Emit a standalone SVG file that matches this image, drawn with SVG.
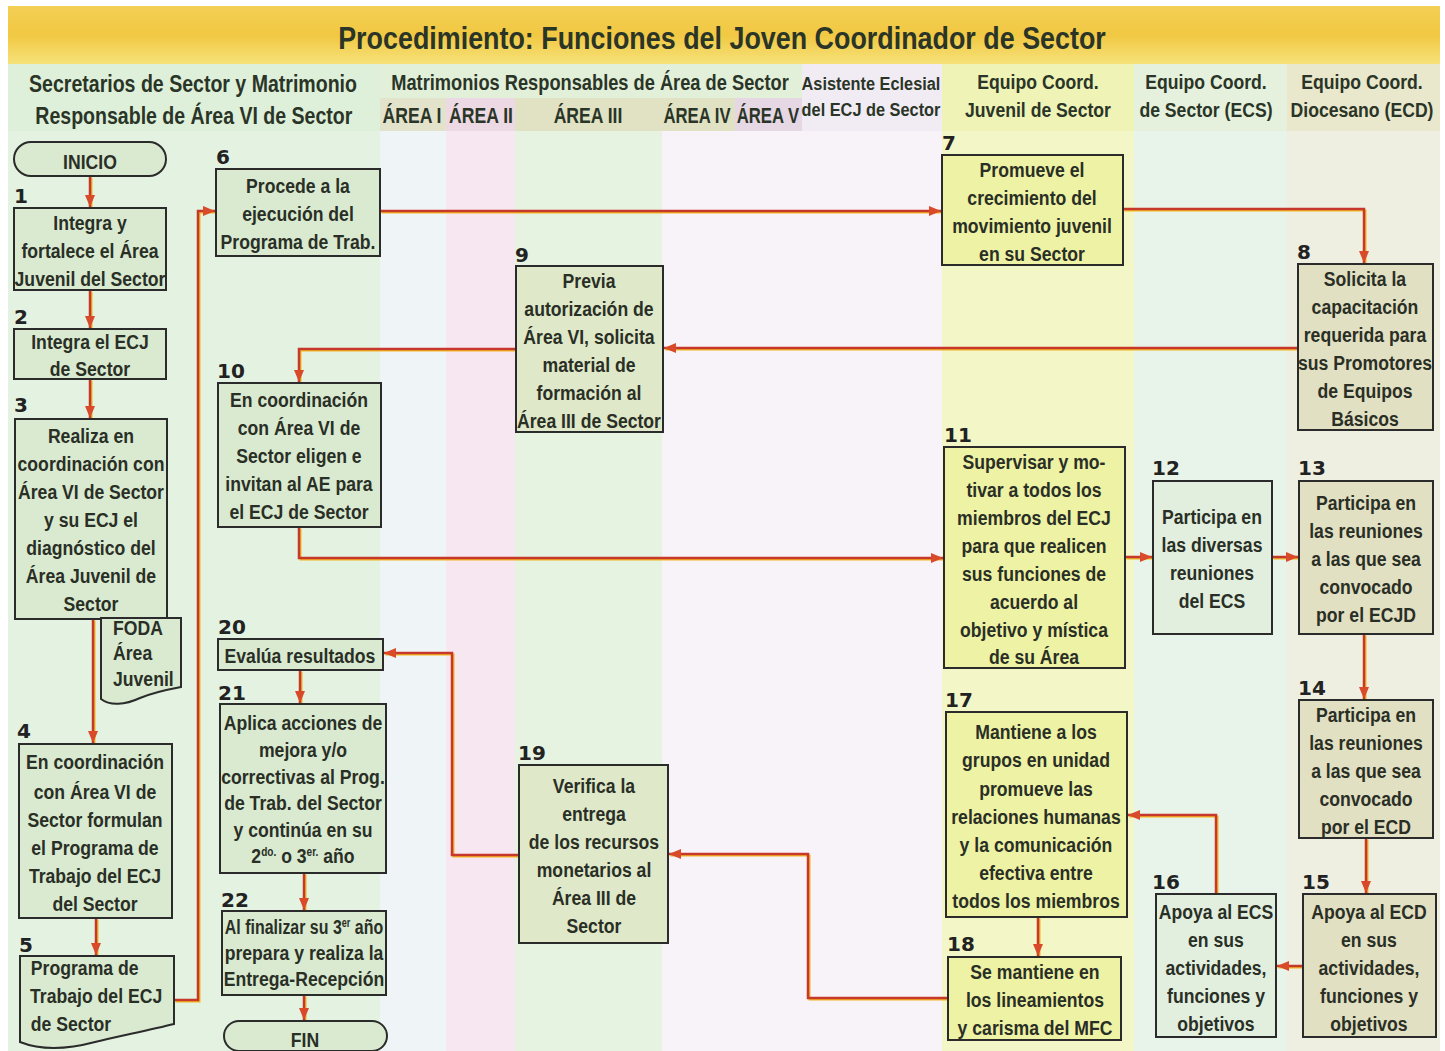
<svg xmlns="http://www.w3.org/2000/svg" xmlns:xlink="http://www.w3.org/1999/xlink" width="1445" height="1051" viewBox="0 0 1445 1051">
<defs>
<linearGradient id="tg" x1="0" y1="0" x2="0" y2="1">
<stop offset="0" stop-color="#f3cf55"/><stop offset="0.5" stop-color="#f1c842"/><stop offset="1" stop-color="#f6e27a"/>
</linearGradient>
<marker id="ah" viewBox="0 0 12 10" refX="12" refY="5" markerWidth="12" markerHeight="10" markerUnits="userSpaceOnUse" orient="auto">
<path d="M0,0 L12,5 L0,10 z" fill="#d84a2a"/>
</marker>
<style>
.h{font-family:"Liberation Sans",Arial,sans-serif;font-weight:bold;fill:#2a3527;text-anchor:middle}
.t{font-family:"Liberation Sans",Arial,sans-serif;font-weight:bold;font-size:21px;fill:#2a2f26;text-anchor:middle}
.l{text-anchor:start}
.n{font-family:"DejaVu Sans",sans-serif;font-weight:bold;font-size:20px;fill:#222}
.b{stroke:#2b2b2b;stroke-width:2}
.fg{fill:#d9ead1}
.fa{fill:#dfe9c9}
.fy{fill:#eef2a4}
.fs{fill:#e2efdf}
.fd{fill:#e2e0c2}
.c{fill:none;stroke:#c6372c;stroke-width:2.5;marker-end:url(#ah)}
.cs{fill:none;stroke:#f3b61f;stroke-width:2}
</style>
<path id="p0" d="M90,176 V207"/>
<path id="p1" d="M90,290 V328"/>
<path id="p2" d="M90,379 V418"/>
<path id="p3" d="M93,619 V743"/>
<path id="p4" d="M96,918 V955"/>
<path id="p5" d="M174,1000 H198 V211 H215"/>
<path id="p6" d="M380,211 H941"/>
<path id="p7" d="M1123,209 H1364 V263"/>
<path id="p8" d="M1298,348 H664"/>
<path id="p9" d="M516,349 H299 V382"/>
<path id="p10" d="M299,527 V558 H943"/>
<path id="p11" d="M1125,557 H1152"/>
<path id="p12" d="M1272,557 H1298"/>
<path id="p13" d="M1364,634 V699"/>
<path id="p14" d="M1366,838 V893"/>
<path id="p15" d="M1303,966 H1277"/>
<path id="p16" d="M1216,894 V815 H1128"/>
<path id="p17" d="M1038,917 V956"/>
<path id="p18" d="M948,998 H808 V854 H669"/>
<path id="p19" d="M519,855 H452 V653 H384"/>
<path id="p20" d="M300,670 V703"/>
<path id="p21" d="M304,873 V910"/>
<path id="p22" d="M304,995 V1020"/>
</defs>
<rect x="0" y="0" width="1445" height="1051" fill="#ffffff"/>
<g id="background">
<rect x="8" y="130" width="372" height="921" fill="#e3f2e1"/>
<rect x="380" y="130" width="66" height="921" fill="#eff5f6"/>
<rect x="446" y="130" width="69" height="921" fill="#f6e7f0"/>
<rect x="515" y="130" width="147" height="921" fill="#e5f3e0"/>
<rect x="662" y="130" width="280" height="921" fill="#f7f3f9"/>
<rect x="942" y="130" width="192" height="921" fill="#f3f6c6"/>
<rect x="1134" y="130" width="153" height="921" fill="#e8f4e9"/>
<rect x="1287" y="130" width="153" height="921" fill="#eeefe0"/>
</g>
<g id="header">
<rect x="8" y="6" width="1432" height="58" fill="url(#tg)"/>
<text class="h" x="722" y="49" font-size="32" transform="translate(722,0) scale(0.84,1) translate(-722,0)">Procedimiento: Funciones del Joven Coordinador de Sector</text>
<rect x="8" y="64" width="372" height="67" fill="#dff0da"/>
<rect x="380" y="64" width="422" height="34" fill="#e2efd9"/>
<rect x="380" y="98" width="66" height="33" fill="#e3e3cb"/>
<rect x="446" y="98" width="69" height="33" fill="#ecd9e3"/>
<rect x="515" y="98" width="220" height="33" fill="#e0e2c3"/>
<rect x="735" y="98" width="67" height="33" fill="#e6d7e5"/>
<rect x="802" y="64" width="140" height="67" fill="#f1ecf3"/>
<rect x="942" y="64" width="192" height="67" fill="#eff3b6"/>
<rect x="1134" y="64" width="153" height="67" fill="#e5f1dd"/>
<rect x="1287" y="64" width="153" height="67" fill="#e9e7cc"/>
<g transform="translate(193,0) scale(0.85,1) translate(-193,0)">
<text class="h" x="193" y="92" font-size="23">Secretarios de Sector y Matrimonio</text>
<text class="h" x="194" y="124" font-size="23">Responsable de Área VI de Sector</text>
</g>
<text class="h" x="590" y="90" font-size="22" transform="translate(590,0) scale(0.83,1) translate(-590,0)">Matrimonios Responsables de Área de Sector</text>
<text class="h" x="412" y="123" font-size="22" transform="translate(412,0) scale(0.8,1) translate(-412,0)">ÁREA I</text>
<text class="h" x="481" y="123" font-size="22" transform="translate(481,0) scale(0.8,1) translate(-481,0)">ÁREA II</text>
<text class="h" x="588" y="123" font-size="22" transform="translate(588,0) scale(0.8,1) translate(-588,0)">ÁREA III</text>
<text class="h" x="697" y="123" font-size="22" transform="translate(697,0) scale(0.76,1) translate(-697,0)">ÁREA IV</text>
<text class="h" x="768" y="123" font-size="22" transform="translate(768,0) scale(0.76,1) translate(-768,0)">ÁREA V</text>
<g transform="translate(871,0) scale(0.86,1) translate(-871,0)">
<text class="h" x="871" y="90" font-size="19">Asistente Eclesial</text>
<text class="h" x="871" y="116" font-size="19">del ECJ de Sector</text>
</g>
<g transform="translate(1038,0) scale(0.84,1) translate(-1038,0)">
<text class="h" x="1038" y="89" font-size="21">Equipo Coord.</text>
<text class="h" x="1038" y="117" font-size="21">Juvenil de Sector</text>
</g>
<g transform="translate(1206,0) scale(0.84,1) translate(-1206,0)">
<text class="h" x="1206" y="89" font-size="21">Equipo Coord.</text>
<text class="h" x="1206" y="117" font-size="21">de Sector (ECS)</text>
</g>
<g transform="translate(1362,0) scale(0.84,1) translate(-1362,0)">
<text class="h" x="1362" y="89" font-size="21">Equipo Coord.</text>
<text class="h" x="1362" y="117" font-size="21">Diocesano (ECD)</text>
</g>
</g>
<g id="connectors">
<use xlink:href="#p0" class="cs" transform="translate(1.5,1.5)"/>
<use xlink:href="#p1" class="cs" transform="translate(1.5,1.5)"/>
<use xlink:href="#p2" class="cs" transform="translate(1.5,1.5)"/>
<use xlink:href="#p3" class="cs" transform="translate(1.5,1.5)"/>
<use xlink:href="#p4" class="cs" transform="translate(1.5,1.5)"/>
<use xlink:href="#p5" class="cs" transform="translate(1.5,1.5)"/>
<use xlink:href="#p6" class="cs" transform="translate(1.5,1.5)"/>
<use xlink:href="#p7" class="cs" transform="translate(1.5,1.5)"/>
<use xlink:href="#p8" class="cs" transform="translate(1.5,1.5)"/>
<use xlink:href="#p9" class="cs" transform="translate(1.5,1.5)"/>
<use xlink:href="#p10" class="cs" transform="translate(1.5,1.5)"/>
<use xlink:href="#p11" class="cs" transform="translate(1.5,1.5)"/>
<use xlink:href="#p12" class="cs" transform="translate(1.5,1.5)"/>
<use xlink:href="#p13" class="cs" transform="translate(1.5,1.5)"/>
<use xlink:href="#p14" class="cs" transform="translate(1.5,1.5)"/>
<use xlink:href="#p15" class="cs" transform="translate(1.5,1.5)"/>
<use xlink:href="#p16" class="cs" transform="translate(1.5,1.5)"/>
<use xlink:href="#p17" class="cs" transform="translate(1.5,1.5)"/>
<use xlink:href="#p18" class="cs" transform="translate(1.5,1.5)"/>
<use xlink:href="#p19" class="cs" transform="translate(1.5,1.5)"/>
<use xlink:href="#p20" class="cs" transform="translate(1.5,1.5)"/>
<use xlink:href="#p21" class="cs" transform="translate(1.5,1.5)"/>
<use xlink:href="#p22" class="cs" transform="translate(1.5,1.5)"/>
<use xlink:href="#p0" class="c"/>
<use xlink:href="#p1" class="c"/>
<use xlink:href="#p2" class="c"/>
<use xlink:href="#p3" class="c"/>
<use xlink:href="#p4" class="c"/>
<use xlink:href="#p5" class="c"/>
<use xlink:href="#p6" class="c"/>
<use xlink:href="#p7" class="c"/>
<use xlink:href="#p8" class="c"/>
<use xlink:href="#p9" class="c"/>
<use xlink:href="#p10" class="c"/>
<use xlink:href="#p11" class="c"/>
<use xlink:href="#p12" class="c"/>
<use xlink:href="#p13" class="c"/>
<use xlink:href="#p14" class="c"/>
<use xlink:href="#p15" class="c"/>
<use xlink:href="#p16" class="c"/>
<use xlink:href="#p17" class="c"/>
<use xlink:href="#p18" class="c"/>
<use xlink:href="#p19" class="c"/>
<use xlink:href="#p20" class="c"/>
<use xlink:href="#p21" class="c"/>
<use xlink:href="#p22" class="c"/>
</g>
<g id="inicio">
<rect class="b fg" x="14" y="142" width="152" height="34" rx="17"/>
<text class="t" x="90" y="169" font-size="26" transform="translate(90,0) scale(0.84,1) translate(-90,0)">INICIO</text>
</g>
<g id="n1">
<text class="n" x="14" y="203">1</text>
<rect class="b fg" x="14" y="208" width="152" height="82"/>
<text class="t" transform="translate(90,0) scale(0.84,1) translate(-90,0)"><tspan x="90" y="230">Integra y</tspan><tspan x="90" y="258">fortalece el Área</tspan><tspan x="90" y="286">Juvenil del Sector</tspan></text>
</g>
<g id="n2">
<text class="n" x="14" y="324">2</text>
<rect class="b fg" x="14" y="329" width="152" height="50"/>
<text class="t" transform="translate(90,0) scale(0.84,1) translate(-90,0)"><tspan x="90" y="349">Integra el ECJ</tspan><tspan x="90" y="376">de Sector</tspan></text>
</g>
<g id="n3">
<text class="n" x="14" y="412">3</text>
<rect class="b fg" x="15" y="419" width="152" height="200"/>
<text class="t" transform="translate(91,0) scale(0.84,1) translate(-91,0)"><tspan x="91" y="443">Realiza en</tspan><tspan x="91" y="471">coordinación con</tspan><tspan x="91" y="499">Área VI de Sector</tspan><tspan x="91" y="527">y su ECJ el</tspan><tspan x="91" y="555">diagnóstico del</tspan><tspan x="91" y="583">Área Juvenil de</tspan><tspan x="91" y="611">Sector</tspan></text>
</g>
<g id="foda">
<path class="b fg" d="M101,618 H181 V687 C165,690 152,693 140,698 C125,705 110,706 101,699 Z"/>
<text class="t l" transform="translate(113,0) scale(0.84,1) translate(-113,0)"><tspan x="113" y="635">FODA</tspan><tspan x="113" y="660">Área</tspan><tspan x="113" y="686">Juvenil</tspan></text>
</g>
<g id="n4">
<text class="n" x="17" y="738">4</text>
<rect class="b fg" x="19" y="744" width="153" height="174"/>
<text class="t" transform="translate(95,0) scale(0.84,1) translate(-95,0)"><tspan x="95" y="769">En coordinación</tspan><tspan x="95" y="799">con Área VI de</tspan><tspan x="95" y="827">Sector formulan</tspan><tspan x="95" y="855">el Programa de</tspan><tspan x="95" y="883">Trabajo del ECJ</tspan><tspan x="95" y="911">del Sector</tspan></text>
</g>
<g id="n5">
<text class="n" x="19" y="952">5</text>
<path class="b fg" d="M20,956 H174 V1024 C150,1030 120,1036 95,1042 C65,1050 40,1050 20,1042 Z"/>
<text class="t l" transform="translate(30,0) scale(0.84,1) translate(-30,0)"><tspan x="31" y="975">Programa de</tspan><tspan x="30" y="1003">Trabajo del ECJ</tspan><tspan x="31" y="1031">de Sector</tspan></text>
</g>
<g id="n6">
<text class="n" x="216" y="164">6</text>
<rect class="b fg" x="216" y="169" width="164" height="87"/>
<text class="t" transform="translate(298,0) scale(0.84,1) translate(-298,0)"><tspan x="298" y="193">Procede a la</tspan><tspan x="298" y="221">ejecución del</tspan><tspan x="298" y="249">Programa de Trab.</tspan></text>
</g>
<g id="n7">
<text class="n" x="942" y="150">7</text>
<rect class="b fy" x="942" y="155" width="181" height="110"/>
<text class="t" transform="translate(1032,0) scale(0.84,1) translate(-1032,0)"><tspan x="1032" y="177">Promueve el</tspan><tspan x="1032" y="205">crecimiento del</tspan><tspan x="1032" y="233">movimiento juvenil</tspan><tspan x="1032" y="261">en su Sector</tspan></text>
</g>
<g id="n8">
<text class="n" x="1297" y="259">8</text>
<rect class="b fd" x="1298" y="264" width="135" height="166"/>
<text class="t" transform="translate(1365,0) scale(0.84,1) translate(-1365,0)"><tspan x="1365" y="286">Solicita la</tspan><tspan x="1365" y="314">capacitación</tspan><tspan x="1365" y="342">requerida para</tspan><tspan x="1365" y="370">sus Promotores</tspan><tspan x="1365" y="398">de Equipos</tspan><tspan x="1365" y="426">Básicos</tspan></text>
</g>
<g id="n9">
<text class="n" x="515" y="262">9</text>
<rect class="b fa" x="516" y="266" width="147" height="166"/>
<text class="t" transform="translate(589,0) scale(0.84,1) translate(-589,0)"><tspan x="589" y="288">Previa</tspan><tspan x="589" y="316">autorización de</tspan><tspan x="589" y="344">Área VI, solicita</tspan><tspan x="589" y="372">material de</tspan><tspan x="589" y="400">formación al</tspan><tspan x="589" y="428">Área III de Sector</tspan></text>
</g>
<g id="n10">
<text class="n" x="217" y="378">10</text>
<rect class="b fg" x="218" y="383" width="163" height="144"/>
<text class="t" transform="translate(299,0) scale(0.84,1) translate(-299,0)"><tspan x="299" y="407">En coordinación</tspan><tspan x="299" y="435">con Área VI de</tspan><tspan x="299" y="463">Sector eligen e</tspan><tspan x="299" y="491">invitan al AE para</tspan><tspan x="299" y="519">el ECJ de Sector</tspan></text>
</g>
<g id="n11">
<text class="n" x="944" y="442">11</text>
<rect class="b fy" x="944" y="447" width="181" height="221"/>
<text class="t" transform="translate(1034,0) scale(0.84,1) translate(-1034,0)"><tspan x="1034" y="469">Supervisar y mo-</tspan><tspan x="1034" y="497">tivar a todos los</tspan><tspan x="1034" y="525">miembros del ECJ</tspan><tspan x="1034" y="553">para que realicen</tspan><tspan x="1034" y="581">sus funciones de</tspan><tspan x="1034" y="609">acuerdo al</tspan><tspan x="1034" y="637">objetivo y mística</tspan><tspan x="1034" y="664">de su Área</tspan></text>
</g>
<g id="n12">
<text class="n" x="1152" y="475">12</text>
<rect class="b fs" x="1153" y="481" width="119" height="153"/>
<text class="t" transform="translate(1212,0) scale(0.84,1) translate(-1212,0)"><tspan x="1212" y="524">Participa en</tspan><tspan x="1212" y="552">las diversas</tspan><tspan x="1212" y="580">reuniones</tspan><tspan x="1212" y="608">del ECS</tspan></text>
</g>
<g id="n13">
<text class="n" x="1298" y="475">13</text>
<rect class="b fd" x="1299" y="481" width="134" height="153"/>
<text class="t" transform="translate(1366,0) scale(0.84,1) translate(-1366,0)"><tspan x="1366" y="510">Participa en</tspan><tspan x="1366" y="538">las reuniones</tspan><tspan x="1366" y="566">a las que sea</tspan><tspan x="1366" y="594">convocado</tspan><tspan x="1366" y="622">por el ECJD</tspan></text>
</g>
<g id="n14">
<text class="n" x="1298" y="695">14</text>
<rect class="b fd" x="1299" y="700" width="134" height="138"/>
<text class="t" transform="translate(1366,0) scale(0.84,1) translate(-1366,0)"><tspan x="1366" y="722">Participa en</tspan><tspan x="1366" y="750">las reuniones</tspan><tspan x="1366" y="778">a las que sea</tspan><tspan x="1366" y="806">convocado</tspan><tspan x="1366" y="834">por el ECD</tspan></text>
</g>
<g id="n15">
<text class="n" x="1302" y="889">15</text>
<rect class="b fd" x="1303" y="894" width="133" height="143"/>
<text class="t" transform="translate(1369,0) scale(0.84,1) translate(-1369,0)"><tspan x="1369" y="919">Apoya al ECD</tspan><tspan x="1369" y="947">en sus</tspan><tspan x="1369" y="975">actividades,</tspan><tspan x="1369" y="1003">funciones y</tspan><tspan x="1369" y="1031">objetivos</tspan></text>
</g>
<g id="n16">
<text class="n" x="1152" y="889">16</text>
<rect class="b fs" x="1156" y="894" width="120" height="143"/>
<text class="t" transform="translate(1216,0) scale(0.84,1) translate(-1216,0)"><tspan x="1216" y="919">Apoya al ECS</tspan><tspan x="1216" y="947">en sus</tspan><tspan x="1216" y="975">actividades,</tspan><tspan x="1216" y="1003">funciones y</tspan><tspan x="1216" y="1031">objetivos</tspan></text>
</g>
<g id="n17">
<text class="n" x="945" y="707">17</text>
<rect class="b fy" x="946" y="712" width="181" height="205"/>
<text class="t" transform="translate(1036,0) scale(0.84,1) translate(-1036,0)"><tspan x="1036" y="739">Mantiene a los</tspan><tspan x="1036" y="767">grupos en unidad</tspan><tspan x="1036" y="796">promueve las</tspan><tspan x="1036" y="824">relaciones humanas</tspan><tspan x="1036" y="852">y la comunicación</tspan><tspan x="1036" y="880">efectiva entre</tspan><tspan x="1036" y="908">todos los miembros</tspan></text>
</g>
<g id="n18">
<text class="n" x="947" y="951">18</text>
<rect class="b fy" x="948" y="957" width="173" height="83"/>
<text class="t" transform="translate(1035,0) scale(0.84,1) translate(-1035,0)"><tspan x="1035" y="979">Se mantiene en</tspan><tspan x="1035" y="1007">los lineamientos</tspan><tspan x="1035" y="1035">y carisma del MFC</tspan></text>
</g>
<g id="n19">
<text class="n" x="518" y="760">19</text>
<rect class="b fa" x="519" y="765" width="149" height="178"/>
<text class="t" transform="translate(594,0) scale(0.84,1) translate(-594,0)"><tspan x="594" y="793">Verifica la</tspan><tspan x="594" y="821">entrega</tspan><tspan x="594" y="849">de los recursos</tspan><tspan x="594" y="877">monetarios al</tspan><tspan x="594" y="905">Área III de</tspan><tspan x="594" y="933">Sector</tspan></text>
</g>
<g id="n20">
<text class="n" x="218" y="634">20</text>
<rect class="b fg" x="218" y="639" width="165" height="31"/>
<text class="t" x="300" y="663" transform="translate(300,0) scale(0.84,1) translate(-300,0)">Evalúa resultados</text>
</g>
<g id="n21">
<text class="n" x="218" y="700">21</text>
<rect class="b fg" x="220" y="704" width="166" height="169"/>
<g transform="translate(303,0) scale(0.84,1) translate(-303,0)">
<text class="t"><tspan x="303" y="730">Aplica acciones de</tspan><tspan x="303" y="757">mejora y/o</tspan><tspan x="303" y="784">correctivas al Prog.</tspan><tspan x="303" y="810">de Trab. del Sector</tspan><tspan x="303" y="837">y continúa en su</tspan></text>
<text class="t" x="303" y="863">2<tspan font-size="12" dy="-7">do.</tspan><tspan dy="7"> o 3</tspan><tspan font-size="12" dy="-7">er.</tspan><tspan dy="7"> año</tspan></text>
</g>
</g>
<g id="n22">
<text class="n" x="221" y="907">22</text>
<rect class="b fg" x="222" y="911" width="164" height="84"/>
<text class="t" x="304" y="934" transform="translate(304,0) scale(0.76,1) translate(-304,0)">Al finalizar su 3<tspan font-size="12" dy="-7">er</tspan><tspan dy="7"> año</tspan></text>
<text class="t" transform="translate(304,0) scale(0.84,1) translate(-304,0)"><tspan x="304" y="960">prepara y realiza la</tspan><tspan x="304" y="986">Entrega-Recepción</tspan></text>
</g>
<g id="fin">
<rect class="b fg" x="224" y="1021" width="163" height="30" rx="15"/>
<text class="t" x="305" y="1047" font-size="26" transform="translate(305,0) scale(0.84,1) translate(-305,0)">FIN</text>
</g>
</svg>
